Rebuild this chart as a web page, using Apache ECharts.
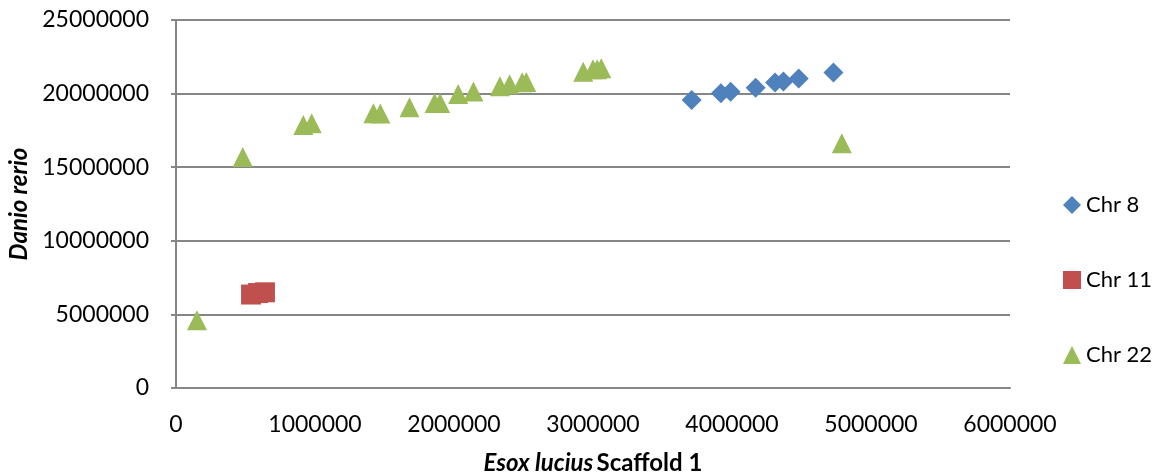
<!DOCTYPE html>
<html>
<head>
<meta charset="utf-8">
<script src="https://cdn.jsdelivr.net/npm/echarts@6/dist/echarts.min.js"></script>
<style>
    html, body { margin: 0; padding: 0; background: #fff; }
    #container { width: 1161px; height: 476px; }
</style>
</head>
<body>
<div id="container"></div>
<script>
    // 数据：[Esox lucius Scaffold 1 位置, Danio rerio 位置]
    let chr8 = [
        [3710000, 19570000], [3920000, 20020000], [3990000, 20130000],
        [4170000, 20400000], [4310000, 20750000], [4370000, 20820000],
        [4480000, 21030000], [4730000, 21440000]
    ];
    let chr11 = [
        [540000, 6350000], [590000, 6450000], [640000, 6500000]
    ];
    let chr22 = [
        [151000, 4600000], [480000, 15690000], [916000, 17870000], [976000, 17980000],
        [1420000, 18660000], [1470000, 18640000], [1680000, 19070000],
        [1860000, 19360000], [1900000, 19360000], [2030000, 19980000],
        [2140000, 20150000], [2330000, 20500000], [2400000, 20630000],
        [2490000, 20770000], [2520000, 20790000], [2930000, 21490000],
        [3000000, 21650000], [3030000, 21650000], [3060000, 21720000],
        [4790000, 16620000]
    ];
    let legendData = ['Chr 8', 'Chr 11', 'Chr 22'];

    let gray = '#868686';
    let font = 'Lato, "Open Sans", sans-serif';

    function plain(value) {
        return String(value); // 不要千分位
    }

    function getCharts() {
        let dom = document.getElementById("container");
        let myChart = echarts.init(dom);
        let option = {
            animation: false,
            backgroundColor: '#fff',
            legend: {
                orient: 'vertical',
                left: 1058,
                top: 189,
                itemWidth: 18,
                itemHeight: 18,
                itemGap: 53,
                textStyle: { fontFamily: font, fontSize: 22, color: '#000' },
                data: [
                    { name: legendData[0], icon: 'diamond' },
                    { name: legendData[1], icon: 'rect' },
                    { name: legendData[2], icon: 'triangle' }
                ]
            },
            grid: {
                left: 176,
                right: 151,
                top: 20,
                bottom: 88,
                outerBoundsMode: 'none',
                containLabel: false
            },
            xAxis: {
                type: 'value',
                min: 0,
                max: 6000000,
                interval: 1000000,
                name: '{bi|Esox lucius} {b|Scaffold 1}',
                nameLocation: 'middle',
                nameGap: 63,
                nameTextStyle: {
                    rich: {
                        bi: { fontFamily: font, fontSize: 24, fontWeight: 'bold', fontStyle: 'italic', color: '#000' },
                        b: { fontFamily: font, fontSize: 24, fontWeight: 'bold', color: '#000' }
                    }
                },
                axisLine: { show: true, lineStyle: { color: gray, width: 2 } },
                axisTick: { show: false },
                splitLine: { show: false },
                axisLabel: {
                    margin: 25,
                    formatter: plain,
                    fontFamily: font,
                    fontSize: 23,
                    color: '#000'
                }
            },
            yAxis: {
                type: 'value',
                min: 0,
                max: 25000000,
                interval: 5000000,
                name: 'Danio rerio',
                nameLocation: 'middle',
                nameGap: 144,
                nameTextStyle: {
                    fontFamily: font, fontSize: 24, fontWeight: 'bold', fontStyle: 'italic', color: '#000'
                },
                axisLine: { show: true, lineStyle: { color: gray, width: 2 } },
                axisTick: { show: true, inside: false, length: 5, lineStyle: { color: gray, width: 2 } },
                splitLine: { show: true, lineStyle: { color: gray, width: 2 } },
                axisLabel: {
                    margin: 27,
                    formatter: plain,
                    fontFamily: font,
                    fontSize: 23,
                    color: '#000'
                }
            },
            series: [{
                name: legendData[0],
                type: 'scatter',
                symbol: 'diamond',
                symbolSize: 20,
                itemStyle: { color: '#4F81BD', opacity: 1 },
                data: chr8
            }, {
                name: legendData[1],
                type: 'scatter',
                symbol: 'rect',
                symbolSize: 20,
                itemStyle: { color: '#C0504D', opacity: 1 },
                data: chr11
            }, {
                name: legendData[2],
                type: 'scatter',
                symbol: 'triangle',
                symbolSize: [20, 20],
                itemStyle: { color: '#9BBB59', opacity: 1 },
                data: chr22
            }]
        };
        myChart.setOption(option, true);
    }

    getCharts();
</script>
</body>
</html>
